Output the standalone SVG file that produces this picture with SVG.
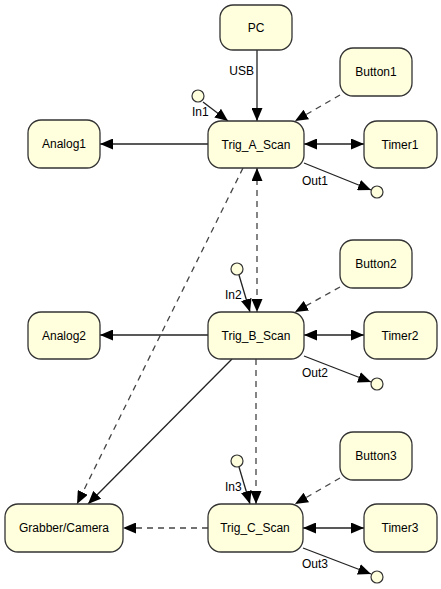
<svg xmlns="http://www.w3.org/2000/svg" width="441" height="589" viewBox="0 0 441 589">
<defs>
<marker id="ah" viewBox="0 0 13 11" refX="13" refY="5.5" markerWidth="13" markerHeight="11" markerUnits="userSpaceOnUse" orient="auto-start-reverse"><path d="M0,0 L13,5.5 L0,11 z" fill="#000"/></marker>
<style>
.n rect{fill:#ffffdd;stroke:#333;stroke-width:1.3}
.n text{font-family:"Liberation Sans",Arial,sans-serif;font-size:12px;fill:#000;text-anchor:middle}
.p circle{fill:#ffffdd;stroke:#333;stroke-width:1.2}
.e path{fill:none;stroke:#222;stroke-width:1.3}
.e path.d{stroke:#444;stroke-dasharray:6,5}
.l{font-family:"Liberation Sans",Arial,sans-serif;font-size:12px;fill:#000}
</style>
</defs>
<rect width="441" height="589" fill="#fff"/>
<g id="edges" class="e">
<path d="M257,50 L257,121" marker-end="url(#ah)"/>
<path class="d" d="M340,95 L295,121" marker-end="url(#ah)"/>
<path d="M203,102 L228,121" marker-end="url(#ah)"/>
<path d="M208,144 L100,144" marker-end="url(#ah)"/>
<path d="M304,144 L364,144" marker-start="url(#ah)" marker-end="url(#ah)"/>
<path d="M304,163 L371,190" marker-end="url(#ah)"/>
<path class="d" d="M257,168 L257,312" marker-start="url(#ah)" marker-end="url(#ah)"/>
<path class="d" d="M243,168 L77,504" marker-end="url(#ah)"/>
<path class="d" d="M340,287 L295,312" marker-end="url(#ah)"/>
<path d="M239,275 L250,312" marker-end="url(#ah)"/>
<path d="M208,335 L100,335" marker-end="url(#ah)"/>
<path d="M304,335 L364,335" marker-start="url(#ah)" marker-end="url(#ah)"/>
<path d="M304,356 L371,382" marker-end="url(#ah)"/>
<path d="M232,359 L88,504" marker-end="url(#ah)"/>
<path class="d" d="M256,359 L256,504" marker-end="url(#ah)"/>
<path class="d" d="M340,478 L295,504" marker-end="url(#ah)"/>
<path d="M239,467 L250,504" marker-end="url(#ah)"/>
<path class="d" d="M208,528 L123,528" marker-end="url(#ah)"/>
<path d="M303,528 L364,528" marker-start="url(#ah)" marker-end="url(#ah)"/>
<path d="M303,548 L371,574" marker-end="url(#ah)"/>
<text class="l" x="254" y="75" text-anchor="end">USB</text>
<text class="l" x="192" y="116">In1</text>
<text class="l" x="225" y="299">In2</text>
<text class="l" x="225" y="491">In3</text>
<text class="l" x="302" y="185">Out1</text>
<text class="l" x="302" y="377">Out2</text>
<text class="l" x="302" y="568">Out3</text>
</g>
<g id="In1" class="p"><circle cx="198" cy="96" r="6"/></g>
<g id="In2" class="p"><circle cx="237" cy="269" r="6"/></g>
<g id="In3" class="p"><circle cx="237" cy="461" r="6"/></g>
<g id="Out1" class="p"><circle cx="377" cy="192" r="6"/></g>
<g id="Out2" class="p"><circle cx="377" cy="384" r="6"/></g>
<g id="Out3" class="p"><circle cx="377" cy="577" r="6"/></g>
<g id="PC" class="n"><rect x="220" y="5" width="72" height="45" rx="13"/><text x="256" y="32">PC</text></g>
<g id="Button1" class="n"><rect x="340" y="48" width="72" height="48" rx="13"/><text x="376" y="76">Button1</text></g>
<g id="Trig_A_Scan" class="n"><rect x="208" y="121" width="96" height="47" rx="13"/><text x="256" y="149">Trig_A_Scan</text></g>
<g id="Analog1" class="n"><rect x="28" y="120" width="72" height="48" rx="13"/><text x="64" y="148">Analog1</text></g>
<g id="Timer1" class="n"><rect x="364" y="121" width="73" height="47" rx="13"/><text x="400" y="149">Timer1</text></g>
<g id="Button2" class="n"><rect x="340" y="240" width="72" height="48" rx="13"/><text x="376" y="268">Button2</text></g>
<g id="Trig_B_Scan" class="n"><rect x="208" y="312" width="96" height="47" rx="13"/><text x="256" y="340">Trig_B_Scan</text></g>
<g id="Analog2" class="n"><rect x="28" y="312" width="72" height="47" rx="13"/><text x="64" y="340">Analog2</text></g>
<g id="Timer2" class="n"><rect x="364" y="312" width="73" height="47" rx="13"/><text x="400" y="340">Timer2</text></g>
<g id="Button3" class="n"><rect x="340" y="432" width="72" height="48" rx="13"/><text x="376" y="460">Button3</text></g>
<g id="Trig_C_Scan" class="n"><rect x="208" y="504" width="95" height="48" rx="13"/><text x="255" y="532">Trig_C_Scan</text></g>
<g id="Grabber_Camera" class="n"><rect x="5" y="504" width="118" height="48" rx="13"/><text x="64" y="532">Grabber/Camera</text></g>
<g id="Timer3" class="n"><rect x="364" y="504" width="73" height="48" rx="13"/><text x="400" y="532">Timer3</text></g>
</svg>
